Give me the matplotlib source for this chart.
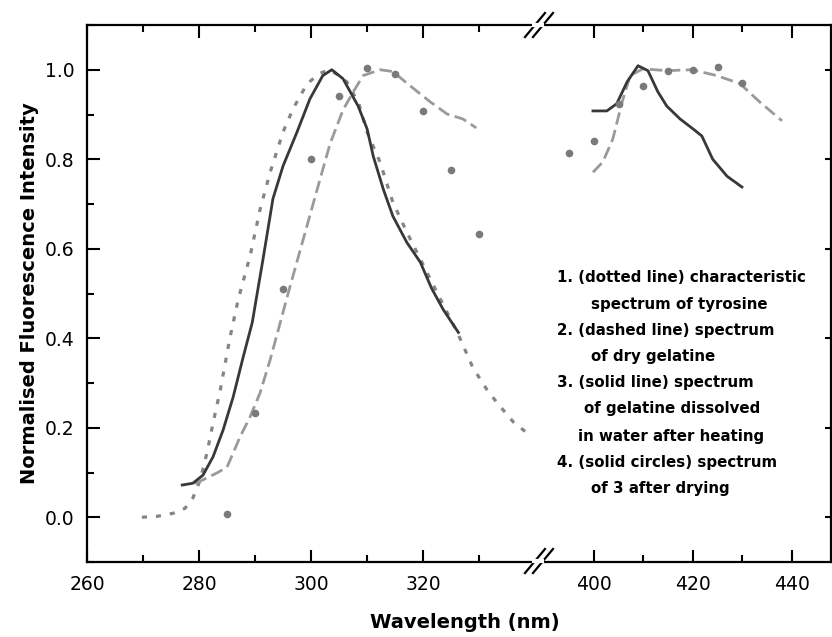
import matplotlib
matplotlib.use("Agg")
import matplotlib.pyplot as plt
from matplotlib.lines import Line2D
from matplotlib.ticker import MultipleLocator

# --- data (wavelength nm, normalised intensity) ---
# 1. tyrosine (dotted)
tyr_x = [269.8, 272.5, 275.4, 277.5, 278.9, 280.2, 281.4, 282.5, 283.8, 285.5, 287.0,
         289.1, 290.9, 292.7, 295.0, 296.8, 299.3, 301.6, 303.2, 304.6, 306.4, 308.5,
         310.0, 312.3, 314.6, 317.1, 318.9, 322.5, 326.3, 328.9, 331.4, 333.2, 336.1, 338.6]
tyr_y = [0.000, 0.002, 0.009, 0.020, 0.043, 0.083, 0.143, 0.210, 0.285, 0.400, 0.487,
         0.583, 0.688, 0.771, 0.861, 0.913, 0.969, 0.992, 1.000, 0.990, 0.973, 0.925,
         0.861, 0.794, 0.704, 0.637, 0.592, 0.502, 0.408, 0.334, 0.285, 0.256, 0.213, 0.188]

# 2. dry gelatine (dashed), left and right parts
dry_x = [279.3, 283.2, 285.0, 287.3, 289.1, 290.9, 292.7, 294.5, 295.9, 298.6, 301.1,
         303.4, 305.7, 307.5, 309.3, 312.3, 314.6, 317.7, 321.3, 324.3, 327.1, 329.5]
dry_y = [0.075, 0.099, 0.112, 0.179, 0.224, 0.278, 0.352, 0.435, 0.500, 0.621, 0.733,
         0.835, 0.910, 0.950, 0.987, 1.000, 0.996, 0.964, 0.928, 0.901, 0.890, 0.870]
dry_x2 = [399.8, 401.8, 403.8, 405.7, 407.3, 409.9, 414.7, 419.8, 424.8, 429.5, 433.5, 438.0]
dry_y2 = [0.771, 0.794, 0.845, 0.928, 0.987, 1.002, 0.998, 1.000, 0.987, 0.969, 0.928, 0.886]

# 3. gelatine dissolved in water after heating (solid)
wet_x = [277.0, 278.9, 280.7, 282.5, 284.3, 286.1, 287.9, 289.5, 290.5, 291.4, 293.2,
         295.0, 297.5, 299.8, 302.1, 303.7, 305.7, 308.4, 310.0, 311.1, 312.9, 314.6,
         317.1, 319.5, 321.5, 323.6, 326.3]
wet_y = [0.072, 0.076, 0.094, 0.135, 0.195, 0.269, 0.359, 0.435, 0.509, 0.575, 0.712,
         0.785, 0.861, 0.935, 0.987, 1.000, 0.980, 0.919, 0.868, 0.807, 0.733, 0.673,
         0.614, 0.570, 0.512, 0.464, 0.413]
wet_x2 = [399.8, 402.6, 404.6, 406.7, 408.9, 410.9, 412.9, 414.7, 417.4, 420.0, 421.8,
          424.0, 426.9, 429.9]
wet_y2 = [0.908, 0.908, 0.924, 0.973, 1.009, 0.998, 0.951, 0.919, 0.890, 0.868, 0.852,
          0.800, 0.762, 0.738]

# 4. sample 3 after drying (solid circles)
dried_x = [285, 290, 295, 300, 305, 310, 315, 320, 325, 330]
dried_y = [0.007, 0.233, 0.509, 0.800, 0.942, 1.004, 0.991, 0.908, 0.776, 0.634]
dried_x2 = [395, 400, 405, 410, 415, 420, 425, 430]
dried_y2 = [0.814, 0.841, 0.924, 0.964, 0.998, 1.000, 1.007, 0.971]

legend_lines = [
    "1. (dotted line) characteristic",
    "spectrum of tyrosine",
    "2. (dashed line) spectrum",
    "of dry gelatine",
    "3. (solid line) spectrum",
    "of gelatine dissolved",
    "in water after heating",
    "4. (solid circles) spectrum",
    "of 3 after drying",
]
legend_indent = [557, 591, 557, 591, 557, 584, 578, 557, 591]

W, H = 832, 637
fig = plt.figure(figsize=(W / 100, H / 100), dpi=100)

def px(x0, y0, x1, y1):
    # figure-pixel box -> axes rect
    return [x0 / W, 1 - y1 / H, (x1 - x0) / W, (y1 - y0) / H]

ax1 = fig.add_axes(px(87, 25, 534, 562))
ax2 = fig.add_axes(px(542, 25, 831, 562))

solid_c = "#383838"
dash_c = "#9a9a9a"
dot_c = "#858585"
dot_mk = "#7a7a7a"

for ax in (ax1, ax2):
    ax.set_ylim(-0.1, 1.1)
    for s in ax.spines.values():
        s.set_linewidth(1.6)
    ax.tick_params(which="both", direction="in", width=1.5, top=True,
                   labelsize=13.5, pad=9)
    ax.tick_params(which="major", length=9)
    ax.tick_params(which="minor", length=5)
    ax.yaxis.set_major_locator(MultipleLocator(0.2))
    ax.yaxis.set_minor_locator(MultipleLocator(0.1))

ax1.set_xlim(260, 339.8)
ax1.xaxis.set_major_locator(MultipleLocator(20))
ax1.xaxis.set_minor_locator(MultipleLocator(10))
ax1.spines["right"].set_visible(False)
ax1.tick_params(axis="y", which="both", right=False)
ax1.set_yticks([0.0, 0.2, 0.4, 0.6, 0.8, 1.0])
ax1.set_yticklabels(["0.0", "0.2", "0.4", "0.6", "0.8", "1.0"])

ax2.set_xlim(389.5, 447.9)
ax2.set_xticks([400, 420, 440])
ax2.set_xticks([410, 430], minor=True)
ax2.spines["left"].set_visible(False)
ax2.tick_params(axis="y", which="both", left=False, right=True, labelleft=False)
ax2.tick_params(axis="y", which="major", length=4)
ax2.tick_params(axis="y", which="minor", length=0)

ax1.plot(tyr_x, tyr_y, color=dot_c, lw=2.3, dashes=(1.6, 2.8))
ax1.plot(dry_x, dry_y, color=dash_c, lw=2.0, dashes=(4.5, 2.0))
ax2.plot(dry_x2, dry_y2, color=dash_c, lw=2.0, dashes=(4.5, 2.0))
ax1.plot(wet_x, wet_y, color=solid_c, lw=2.0)
ax2.plot(wet_x2, wet_y2, color=solid_c, lw=2.0)
ax1.plot(dried_x, dried_y, "o", color=dot_mk, ms=5.5, mec="none")
ax2.plot(dried_x2, dried_y2, "o", color=dot_mk, ms=5.5, mec="none")

# break marks on top and bottom spines
for yb, yt in ((37, 13), (573, 549)):
    for dx in (0, 8):
        fig.add_artist(Line2D([(525 + dx) / W, (545 + dx) / W],
                              [1 - yb / H, 1 - yt / H], color="black", lw=1.6))
    fig.add_artist(Line2D([534 / W, 542 / W], [1 - (yb + yt) / 2 / H] * 2,
                          color="white", lw=3))

ax1.set_ylabel("Normalised Fluorescence Intensity", fontsize=14, fontweight="bold",
               labelpad=4)
fig.text(465 / W, 1 - 622 / H, "Wavelength (nm)", fontsize=14, fontweight="bold",
         ha="center", va="center")

ys = [278, 304, 331, 357, 383, 409, 436, 462, 488]
for line, x, y in zip(legend_lines, legend_indent, ys):
    fig.text(x / W, 1 - y / H, line, fontsize=10.8, fontweight="bold",
             ha="left", va="center")

fig.savefig("out.png", dpi=100)
